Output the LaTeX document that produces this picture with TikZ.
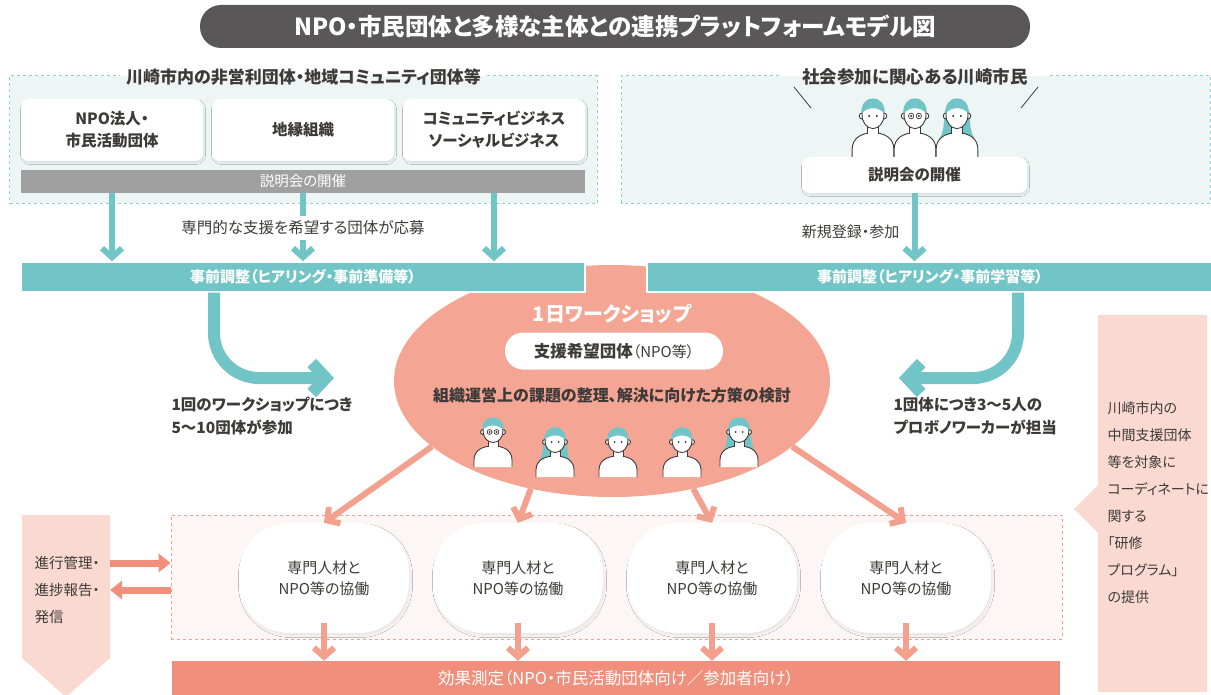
\documentclass[tikz,border=0pt]{standalone}
\usepackage{fontspec}
\usepackage{graphicx}
\setmainfont{Noto Sans CJK JP}[RawFeature={+palt}]
\usetikzlibrary{arrows.meta,shapes.geometric,shadows.blur}

\definecolor{ktext}{HTML}{3E3A39}
\definecolor{ktitle}{HTML}{595757}
\definecolor{kteal}{HTML}{72C5C6}
\definecolor{kpale}{HTML}{EEF6F5}
\definecolor{kdash}{HTML}{8ED3D3}
\definecolor{kgray}{HTML}{A0A0A0}
\definecolor{kblob}{HTML}{F4A593}
\definecolor{karrow}{HTML}{F3A08E}
\definecolor{kbar}{HTML}{F0907C}
\definecolor{kpink}{HTML}{FAD9D0}
\definecolor{kcoop}{HTML}{FCF6F5}
\definecolor{kcdash}{HTML}{F4A08E}

\newcommand{\fs}[2]{\fontsize{#1}{#2}\selectfont}

% one little figure: [scope options]{base point}{long hair}{glasses}
\newcommand{\folk}[4][]{%
  \begin{scope}[shift={(#2)},#1]
    \ifnum#3=1
      \fill[kteal] (-11,-40) .. controls (-12,-28) and (-12,-22) .. (-16,-16)
        -- (16,-16) .. controls (12,-22) and (12,-28) .. (11,-40) -- cycle;
    \fi
    \draw[figline, fill=white] (-19,0) -- (-19,-7) .. controls (-19,-17) and (-10,-21) .. (0,-21)
      .. controls (10,-21) and (19,-17) .. (19,-7) -- (19,0);
    \draw[figline, fill=white] (-5,-20) -- (-5,-27) -- (5,-27) -- (5,-20);
    \draw[figline, fill=white] (-10,-35) circle[radius=2.5] (10,-35) circle[radius=2.5];
    \draw[figline, fill=white] (0,-36) ellipse[x radius=10, y radius=11.5];
    \fill[kteal] (-10.5,-37) .. controls (-12,-54) and (12,-54) .. (10.5,-37)
      .. controls (5,-43) and (-5,-43) .. cycle;
    \fill[ktext] (-3.5,-35) circle[radius=1] (3.5,-35) circle[radius=1];
    \ifnum#4=1
      \draw[figline, line width=0.7pt] (-3.5,-35) circle[radius=2.4] (3.5,-35) circle[radius=2.4];
    \fi
  \end{scope}}

\begin{document}
\begin{tikzpicture}[x=1pt, y=-1pt,
    figline/.style={draw=ktext, line width=0.9pt},
    panel/.style={fill=kpale, minimum width=#1, minimum height=127pt, inner sep=0pt},
    tdash/.style={draw=kdash, dashed, line width=0.8pt},
    whitebox/.style={
       fill=white, rounded corners=8pt, align=center, text=ktext, inner sep=0pt,
       blur shadow={shadow xshift=1pt, shadow yshift=-2pt, shadow blur radius=1.5pt, shadow opacity=8}
        },
    tealbar/.style={fill=kteal, draw=white, line width=1.5pt, text=white,
       inner sep=0pt, minimum height=30pt, font=\bfseries\fs{15}{17}},
    tarrow/.style={draw=kteal, line width=6pt, -{Straight Barb[length=9pt,width=20pt]}},
    tbend/.style={draw=kteal, line width=12pt, rounded corners=45pt,
       -{Straight Barb[length=14pt,width=30pt]}},
    sarrow/.style={draw=karrow, line width=6pt, -{Straight Barb[length=9pt,width=20pt]}},
    sside/.style={draw=kbar, line width=7pt, -{Triangle[length=12pt,width=18pt]}},
    cloud/.style={
       fill=white, rounded corners=50pt, minimum width=170pt, minimum height=110pt,
       align=center, text=ktext, font=\fs{15}{21},
       blur shadow={shadow xshift=1.5pt, shadow yshift=-2.5pt, shadow blur radius=2pt, shadow opacity=7}
        },
    lines/.style={anchor=west, text=ktext}]

\useasboundingbox (0,0) rectangle (1211,695);

\node[fill=ktitle, rounded corners=21pt, minimum width=830pt, minimum height=43pt,
  text=white, font=\bfseries\fs{23.5}{25}] (title) at (615,26.5)
  {NPO・市民団体と多様な主体との連携プラットフォームモデル図};

% organisations
\node[panel=587pt] (orgs) at (303.5,139.5) {};
\node[text=ktext, inner xsep=6pt, font=\bfseries\fs{17}{18}] (orgs-t) at (303.5,77)
  {川崎市内の非営利団体・地域コミュニティ団体等};
\draw[tdash] (orgs-t.east |- orgs.north) -- (orgs.north east) -- (orgs.south east)
  -- (orgs.south west) -- (orgs.north west) -- (orgs-t.west |- orgs.north);
\foreach [count=\j] \t in {{NPO法人・\\市民活動団体}, {地縁組織}, {コミュニティビジネス\\ソーシャルビジネス}}
  \node[whitebox, minimum width=182pt, minimum height=62pt, font=\bfseries\fs{15.5}{22}]
    (org-\j) at (112+191*\j-191,130) {\t};
\node[fill=kgray, minimum width=564pt, minimum height=23pt, inner sep=0pt,
  text=white, font=\fs{14.5}{16}] (brief-l) at (303,181.5) {説明会の開催};

% citizens
\node[panel=588pt] (cits) at (916,139.5) {};
\node[text=ktext, inner xsep=22pt, font=\bfseries\fs{17.5}{20}] (cits-t) at (915,77)
  {社会参加に関心ある川崎市民};
\draw[tdash] (cits-t.east |- cits.north) -- (cits.north east) -- (cits.south east)
  -- (cits.south west) -- (cits.north west) -- (cits-t.west |- cits.north);
\draw[ktext, line width=0.8pt] (794,87) -- (811,108) (1038,87) -- (1021,108);
\folk[xscale=1.1, yscale=1.2]{873,158}{0}{0}
\folk[xscale=1.1, yscale=1.2]{915,158}{0}{1}
\folk[xscale=1.1, yscale=1.2]{957,158}{1}{0}
\node[whitebox, minimum width=225pt, minimum height=36pt, font=\bfseries\fs{15.5}{18}]
  (brief-r) at (914.5,175) {説明会の開催};

% workshop
\node[ellipse, fill=kblob, minimum width=436pt, minimum height=232pt, inner sep=0pt] (ws) at (612,381) {};
\node[tealbar, minimum width=564pt] (prep-l) at (303,277) {事前調整（ヒアリング・事前準備等）};
\node[tealbar, minimum width=566pt] (prep-r) at (930,277) {事前調整（ヒアリング・事前学習等）};

\foreach \j in {1,2,3}
  \draw[tarrow] (org-\j |- brief-l.south) -- (org-\j |- prep-l.north);
\node[fill=white, inner sep=5pt, text=ktext, font=\fs{15.5}{18}] (apply) at (303,228)
  {専門的な支援を希望する団体が応募};
\draw[tarrow] (brief-r.south) -- (brief-r.south |- prep-r.north);
\node[text=ktext, anchor=east, font=\fs{15}{17}] (join) at (903,232) {新規登録・参加};

\node[text=white, font=\bfseries\fs{20}{22}] (ws-t) at (612,314) {1日ワークショップ};
\node[fill=white, rounded corners=18pt, minimum width=218pt, minimum height=37pt, text=ktext] (npo)
  at (614,351) {{\bfseries\fs{16.5}{18}支援希望団体}{\fs{15}{18}（NPO等）}};
\node[text=ktext, font=\bfseries\fs{16}{18}] (task) at (612,395)
  {組織運営上の課題の整理、解決に向けた方策の検討};
\folk{493,467}{0}{1}
\folk{555,477}{1}{0}
\folk{618,477}{0}{0}
\folk{682,477}{0}{0}
\folk{739,467}{1}{0}

\coordinate (l-bend) at (214,378);
\coordinate (l-tip) at (334,378);
\draw[tbend] (prep-l.south -| l-bend) -- (l-bend) -- (l-tip);
\coordinate (r-bend) at (1018,378);
\coordinate (r-tip) at (899,378);
\draw[tbend] (prep-r.south -| r-bend) -- (r-bend) -- (r-tip);
\node[lines, align=left, font=\bfseries\fs{15.5}{23}] (per-ws) at (168,416)
  {1回のワークショップにつき\\5〜10団体が参加};
\node[lines, align=left, font=\bfseries\fs{15.5}{23}] (per-org) at (890,416)
  {1団体につき3〜5人の\\プロボノワーカーが担当};

% collaboration
\node[fill=kcoop, draw=kcdash, dashed, line width=0.8pt, minimum width=891pt,
  minimum height=124pt] (coop) at (616.5,577) {};
\foreach [count=\j] \x in {324,518,712,906}
  \node[cloud] (c-\j) at (\x,578) {専門人材と\\NPO等の協働};
\foreach [count=\j] \a in {200,233,307,340}
  \draw[sarrow] (ws.\a) -- (c-\j.north);
\node[fill=kbar, minimum width=888pt, minimum height=34pt, text=white, font=\fs{16.5}{18}] (eff)
  at (616,678) {効果測定（NPO・市民活動団体向け／参加者向け）};
\foreach \j in {1,...,4}
  \draw[sarrow] ([yshift=10pt]c-\j.south) -- (c-\j.south |- eff.north);

% management
\fill[kpink] (22,515) -- (110,515) -- (110,658) -- (66,697) -- (22,658) -- cycle;
\coordinate (mg) at (110,515);
\foreach [count=\j] \t in {進行管理・, 進捗報告・, 発信}
  \node[lines, font=\fs{14.5}{16}] (mg-\j) at (31,536+27*\j) {\t};
\draw[sside] (mg |- mg-1) -- (coop.west |- mg-1);
\draw[sside] (coop.west |- mg-2) -- (mg |- mg-2);

% training programme
\fill[kpink] (1098,315) -- (1207,315) -- (1207,692) -- (1098,692) -- (1098,533)
  -- (1074,509) -- (1098,485) -- cycle;
\foreach [count=\j] \t in {川崎市内の, 中間支援団体, 等を対象に, コーディネートに,
    関する, 「研修, プログラム」, の提供}
  \node[lines, font=\fs{14}{16}] (prog-\j) at (1104,381+27*\j) {\t};

\end{tikzpicture}
\end{document}
